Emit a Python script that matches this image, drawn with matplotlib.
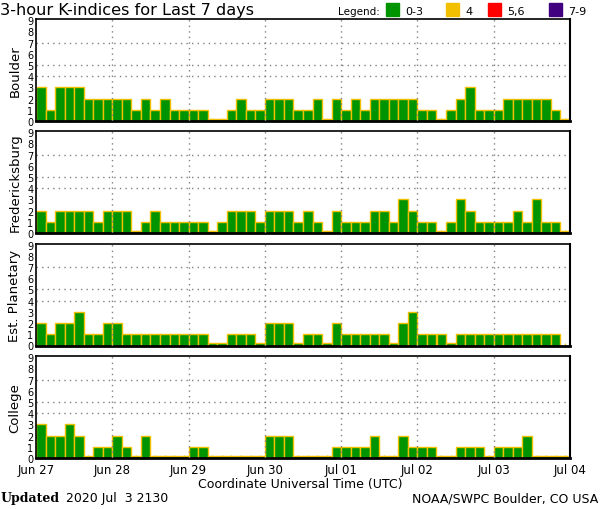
import matplotlib
matplotlib.use('Agg')
import matplotlib.pyplot as plt
import numpy as np

# 3-hour K-index values, 8 per day, Jun 27 .. Jul 03
stations = ['Boulder', 'Fredericksburg', 'Est. Planetary', 'College']
boulder = [3, 1, 3, 3, 3, 2, 2, 2, 2, 2, 1, 2, 1, 2, 1, 1,
           1, 1, 0, 0, 1, 2, 1, 1, 2, 2, 2, 1, 1, 2, 0, 2,
           1, 2, 1, 2, 2, 2, 2, 2, 1, 1, 0, 1, 2, 3, 1, 1,
           1, 2, 2, 2, 2, 2, 1, 0]
fredericksburg = [2, 1, 2, 2, 2, 2, 1, 2, 2, 2, 0, 1, 2, 1, 1, 1,
                  1, 1, 0, 1, 2, 2, 2, 1, 2, 2, 2, 1, 2, 1, 0, 2,
                  1, 1, 1, 2, 2, 1, 3, 2, 1, 1, 0, 1, 3, 2, 1, 1,
                  1, 1, 2, 1, 3, 1, 1, 0]
planetary = [2, 1, 2, 2, 3, 1, 1, 2, 2, 1, 1, 1, 1, 1, 1, 1,
             1, 1, 0, 0, 1, 1, 1, 0, 2, 2, 2, 0, 1, 1, 0, 2,
             1, 1, 1, 1, 1, 0, 2, 3, 1, 1, 1, 0, 1, 1, 1, 1,
             1, 1, 1, 1, 1, 1, 1, np.nan]
college = [3, 2, 2, 3, 2, 0, 1, 1, 2, 1, 0, 2, 0, 0, 0, 0,
           1, 1, 0, 0, 0, 0, 0, 0, 2, 2, 2, 0, 0, 0, 0, 1,
           1, 1, 1, 2, 0, 0, 2, 1, 1, 1, 0, 0, 1, 1, 1, 0,
           1, 1, 1, 2, 0, 0, 0, 0]
day_labels = ['Jun 27', 'Jun 28', 'Jun 29', 'Jun 30', 'Jul 01', 'Jul 02', 'Jul 03', 'Jul 04']
legend_labels = ['0-3', '4', '5,6', '7-9']

GREEN, YELLOW, RED, PURPLE = '#009400', '#f2c000', '#ff0000', '#400080'
EDGE = '#f2c000'


def k_color(k):
    """colour of a bar by K level"""
    if k <= 3:
        return GREEN
    if k == 4:
        return YELLOW
    if k <= 6:
        return RED
    return PURPLE


W, H = 600, 510
fig = plt.figure(figsize=(W / 100, H / 100), dpi=100)

# panel positions in pixels
left, right = 36, 570
tops = [20, 132, 244.5, 357]
ph = 102

all_data = [boulder, fredericksburg, planetary, college]
hours = np.arange(56) * 3

for i, (name, vals) in enumerate(zip(stations, all_data)):
    ax = fig.add_axes([left / W, 1 - (tops[i] + ph) / H, (right - left) / W, ph / H])
    vals = np.array(vals, dtype=float)
    # zero is still drawn as a thin bar
    heights = np.where(vals == 0, 0.18, vals)
    colors = [k_color(v) if not np.isnan(v) else GREEN for v in vals]
    ax.bar(hours, heights, width=3, align='edge', color=colors,
           edgecolor=EDGE, linewidth=1.0, zorder=2)

    ax.set_xlim(0, 168)
    ax.set_ylim(0, 9.1)
    ax.set_yticks(range(10))
    ax.set_yticklabels([str(n) for n in range(10)], fontsize=7)
    ax.tick_params(axis='y', length=0, pad=2)

    # dotted guide lines
    for y in [4, 5, 7]:
        ax.axhline(y, color='#808080', linestyle=(0, (1, 3)), linewidth=1, zorder=1)
    for d in range(1, 7):
        ax.axvline(d * 24, color='#808080', linestyle=(0, (1, 3)), linewidth=1, zorder=3)

    ax.set_xticks(np.arange(0, 169, 24))
    ax.set_xticks(hours + 1.5, minor=True)
    ax.tick_params(axis='x', which='major', length=0)
    ax.tick_params(axis='x', which='minor', direction='in', length=2.5,
                   width=1, color='#d8d040')
    if i == 3:
        ax.set_xticklabels(day_labels, fontsize=8.5)
    else:
        ax.set_xticklabels([])

    for s in ax.spines.values():
        s.set_color('black')
    ax.spines['bottom'].set_linewidth(2)
    ax.spines['left'].set_linewidth(1.2)
    ax.spines['top'].set_linewidth(1.2)
    ax.spines['right'].set_linewidth(1.5)

    ax.set_ylabel(name, fontsize=9.5, labelpad=4)

# title and legend
fig.text(0 / W, 1 - 10 / H, '3-hour K-indices for Last 7 days', fontsize=11.6,
         va='center', ha='left')
fig.text(338 / W, 1 - 12 / H, 'Legend:', fontsize=7.5, va='center', ha='left')
legend_x = [386, 446, 488, 549]
for x, c, lab in zip(legend_x, [GREEN, YELLOW, RED, PURPLE], legend_labels):
    fig.patches.append(plt.Rectangle((x / W, 1 - 17 / H), 13 / W, 13 / H,
                                     transform=fig.transFigure, color=c))
    fig.text((x + 19) / W, 1 - 12 / H, lab, fontsize=8, va='center', ha='left')

# footer
fig.text(300 / W, 1 - 485 / H, 'Coordinate Universal Time (UTC)', fontsize=9,
         va='center', ha='center')
fig.text(1 / W, 1 - 499 / H, 'Updated', fontsize=9, family='DejaVu Serif',
         fontweight='bold', va='center', ha='left')
fig.text(66 / W, 1 - 499 / H, '2020 Jul  3 2130', fontsize=9, va='center', ha='left')
fig.text(598 / W, 1 - 499 / H, 'NOAA/SWPC Boulder, CO USA', fontsize=9,
         va='center', ha='right')

fig.savefig('out.png', dpi=100, facecolor='white')
